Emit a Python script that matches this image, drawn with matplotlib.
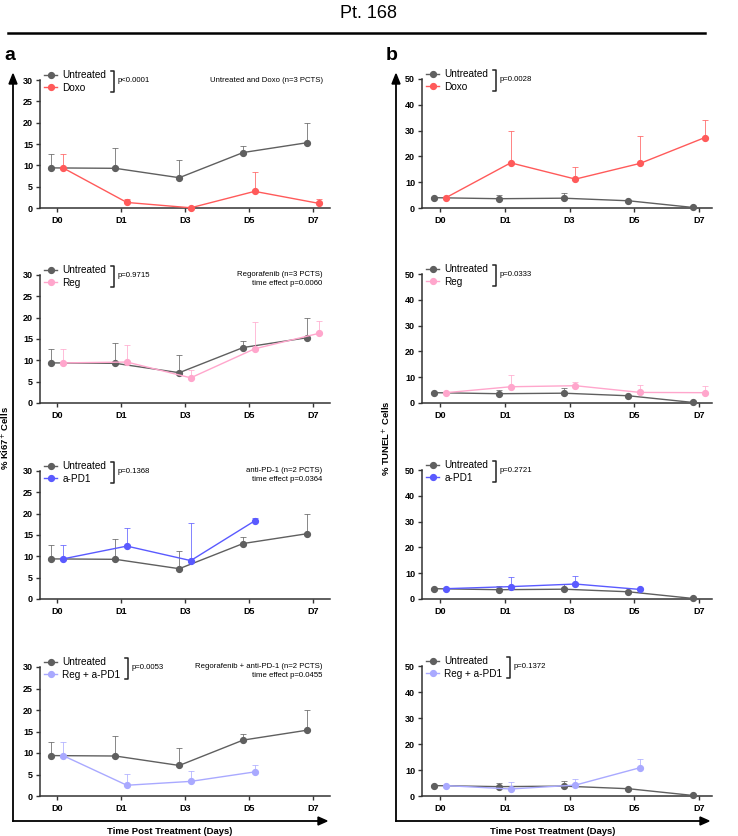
import numpy as np
import matplotlib.pyplot as plt
from matplotlib.lines import Line2D

plt.rcParams["font.family"] = ["Liberation Sans", "DejaVu Sans"]

days = ["D0", "D1", "D3", "D5", "D7"]
nan = np.nan

# Ki67 (% positive cells): mean and upper SD
ki_untreated = [9.4, 9.3, 7.1, 13.0, 15.3]
ki_untreated_err = [3.2, 4.7, 4.1, 1.5, 4.6]
ki_doxo = [9.4, 1.3, 0.05, 3.9, 1.1]
ki_doxo_err = [3.2, 0.7, 0.0, 4.5, 0.9]
ki_reg = [9.4, 9.6, 5.9, 12.7, 16.3]
ki_reg_err = [3.2, 4.0, 1.9, 6.3, 2.9]
ki_apd1 = [9.4, 12.4, 9.0, 18.3, nan]
ki_apd1_err = [3.2, 4.3, 8.8, 0.8, nan]
ki_combo = [9.4, 2.5, 3.4, 5.6, nan]
ki_combo_err = [3.2, 2.7, 2.4, 1.5, nan]

# TUNEL (% positive cells)
tu_untreated = [4.0, 3.6, 3.8, 2.8, 0.2]
tu_untreated_err = [0.3, 1.5, 1.9, 0.3, 0.2]
tu_doxo = [4.0, 17.5, 11.2, 17.3, 27.3]
tu_doxo_err = [0.3, 12.4, 4.8, 10.7, 6.8]
tu_reg = [4.0, 6.3, 6.7, 4.1, 4.0]
tu_reg_err = [0.3, 4.5, 1.5, 2.7, 2.4]
tu_apd1 = [4.0, 4.8, 5.8, 3.7, nan]
tu_apd1_err = [0.3, 3.9, 3.3, 0.2, nan]
tu_combo = [4.0, 2.7, 4.2, 10.9, nan]
tu_combo_err = [0.3, 2.6, 2.2, 3.3, nan]

treat_names = ["Doxo", "Reg", "a-PD1", "Reg + a-PD1"]
treat_colors = ["#ff5a5a", "#ffa6cc", "#5a5aff", "#a9a9ff"]
ki_series = [(ki_doxo, ki_doxo_err), (ki_reg, ki_reg_err),
             (ki_apd1, ki_apd1_err), (ki_combo, ki_combo_err)]
tu_series = [(tu_doxo, tu_doxo_err), (tu_reg, tu_reg_err),
             (tu_apd1, tu_apd1_err), (tu_combo, tu_combo_err)]
ki_p = ["p<0.0001", "p=0.9715", "p=0.1368", "p=0.0053"]
tu_p = ["p=0.0028", "p=0.0333", "p=0.2721", "p=0.1372"]
ki_notes = [["Untreated and Doxo (n=3 PCTS)"],
            ["Regorafenib (n=3 PCTS)", "time effect p=0.0060"],
            ["anti-PD-1 (n=2 PCTS)", "time effect p=0.0364"],
            ["Regorafenib + anti-PD-1 (n=2 PCTS)", "time effect p=0.0455"]]

UNTREATED = "#5f5f5f"
W, H = 738, 836
fig = plt.figure(figsize=(W / 100, H / 100), dpi=100)


def px_axes(x0, y_top, x1, y_bot):
    return fig.add_axes([x0 / W, 1 - y_bot / H, (x1 - x0) / W, (y_bot - y_top) / H])


def draw_panel(ax, untreated, untreated_err, vals, errs, color, name, ymax, step, xlim):
    x = np.arange(len(days))
    for xs, v, e, c, z in [(x - 0.09, untreated, untreated_err, UNTREATED, 3),
                           (x + 0.09, vals, errs, color, 4)]:
        v = np.array(v, dtype=float)
        e = np.array(e, dtype=float)
        ax.errorbar(xs, v, yerr=[np.zeros_like(e), e], fmt="none", ecolor=c,
                    elinewidth=0.7, capsize=2.5, capthick=0.7, alpha=0.75, zorder=z)
        ax.plot(xs, v, "-o", color=c, lw=1.0, ms=4.2, zorder=z + 1, clip_on=False)
    ax.set_xlim(*xlim)
    ax.set_ylim(0, ymax)
    ax.set_yticks(np.arange(0, ymax + 1, step))
    ax.set_xticks(x)
    ax.set_xticklabels(days)
    for s in ["top", "right"]:
        ax.spines[s].set_visible(False)
    for s in ["left", "bottom"]:
        ax.spines[s].set_linewidth(1.1)
        ax.spines[s].set_color("#333333")
    ax.tick_params(axis="both", direction="out", length=3, width=1.0, color="#333333",
                   labelsize=6.5, pad=2)
    ax.tick_params(axis="x", pad=2.5)
    for lab in ax.get_xticklabels() + ax.get_yticklabels():
        lab.set_fontweight("bold")
    handles = [Line2D([], [], color=UNTREATED, marker="o", ms=4.2, lw=1.0),
               Line2D([], [], color=color, marker="o", ms=4.2, lw=1.0)]
    leg = ax.legend(handles, ["Untreated", name], loc="upper left",
                    bbox_to_anchor=(0.015, 1.075), frameon=False, fontsize=7.2,
                    handlelength=1.3, handletextpad=0.5, labelspacing=0.25,
                    borderaxespad=0, borderpad=0)
    return leg


left_tops = [80, 275, 471, 667]
left_bots = [208, 403, 599, 796]
panels = []
for i in range(4):
    ax = px_axes(40, left_tops[i], 330, left_bots[i])
    leg = draw_panel(ax, ki_untreated, ki_untreated_err, ki_series[i][0], ki_series[i][1],
                     treat_colors[i], treat_names[i], 30, 5, (-0.27, 4.27))
    panels.append((ax, leg, ki_p[i]))
    note = ki_notes[i]
    for j, line in enumerate(note):
        ax.text(0.975, 1.0 - j * 0.068, line, transform=ax.transAxes, ha="right",
                va="center", fontsize=5.6)
    axr = px_axes(422, left_tops[i] - 1, 712, left_bots[i])
    leg = draw_panel(axr, tu_untreated, tu_untreated_err, tu_series[i][0], tu_series[i][1],
                     treat_colors[i], treat_names[i], 50, 10, (-0.28, 4.2))
    panels.append((axr, leg, tu_p[i]))

# brackets with p-values next to the legends
fig.canvas.draw()
renderer = fig.canvas.get_renderer()
inv = fig.transFigure.inverted()
for ax, leg, ptxt in panels:
    texts = leg.get_texts()
    bb0 = texts[0].get_window_extent(renderer)
    bb1 = texts[1].get_window_extent(renderer)
    xr = max(bb0.x1, bb1.x1) + 5
    yt = bb0.y1 - 1
    yb = bb1.y0 + 1
    pts = inv.transform([(xr, yt), (xr + 3, yt), (xr + 3, yb), (xr, yb)])
    fig.add_artist(Line2D(pts[:, 0], pts[:, 1], color="#222222", lw=1.1))
    tx, ty = inv.transform((xr + 6, (yt + yb) / 2 + 1.5))
    fig.text(tx, ty, ptxt, fontsize=5.6, ha="left", va="center")

# figure frame: title, rule, panel letters, big arrows
fig.text(369 / W, 1 - 13 / H, "Pt. 168", ha="center", va="center", fontsize=13)
fig.add_artist(Line2D([8 / W, 705 / W], [1 - 33 / H, 1 - 33 / H], color="black", lw=1.8))
fig.text(4 / W, 1 - 55 / H, "a", ha="left", va="center", fontsize=14, fontweight="bold")
fig.text(386 / W, 1 - 55 / H, "b", ha="left", va="center", fontsize=14, fontweight="bold")

for x0, x1 in [(13, 327), (396, 709)]:
    fig.add_artist(Line2D([x0 / W, x0 / W], [1 - 821 / H, 1 - 82 / H], color="black", lw=1.3))
    fig.add_artist(Line2D([x0 / W, (x1 - 6) / W], [1 - 821 / H, 1 - 821 / H], color="black", lw=1.3))
    fig.patches.append(plt.Polygon([(x0 / W - 4 / W, 1 - 84 / H), (x0 / W + 4 / W, 1 - 84 / H),
                                    (x0 / W, 1 - 74 / H)], closed=True, color="black",
                                   transform=fig.transFigure))
    fig.patches.append(plt.Polygon([((x1 - 9) / W, 1 - 817 / H), ((x1 - 9) / W, 1 - 825 / H),
                                    (x1 / W, 1 - 821 / H)], closed=True, color="black",
                                   transform=fig.transFigure))

fig.text(6 / W, 1 - 438 / H, "% Ki67$^{+}$ Cells", rotation=90, ha="center", va="center",
         fontsize=6.8, fontweight="bold")
fig.text(387 / W, 1 - 438 / H, "% TUNEL$^{+}$ Cells", rotation=90, ha="center", va="center",
         fontsize=6.8, fontweight="bold")
fig.text(170 / W, 1 - 831 / H, "Time Post Treatment (Days)", ha="center", va="center",
         fontsize=6.8, fontweight="bold")
fig.text(553 / W, 1 - 831 / H, "Time Post Treatment (Days)", ha="center", va="center",
         fontsize=6.8, fontweight="bold")

fig.savefig("out.png", dpi=100)
